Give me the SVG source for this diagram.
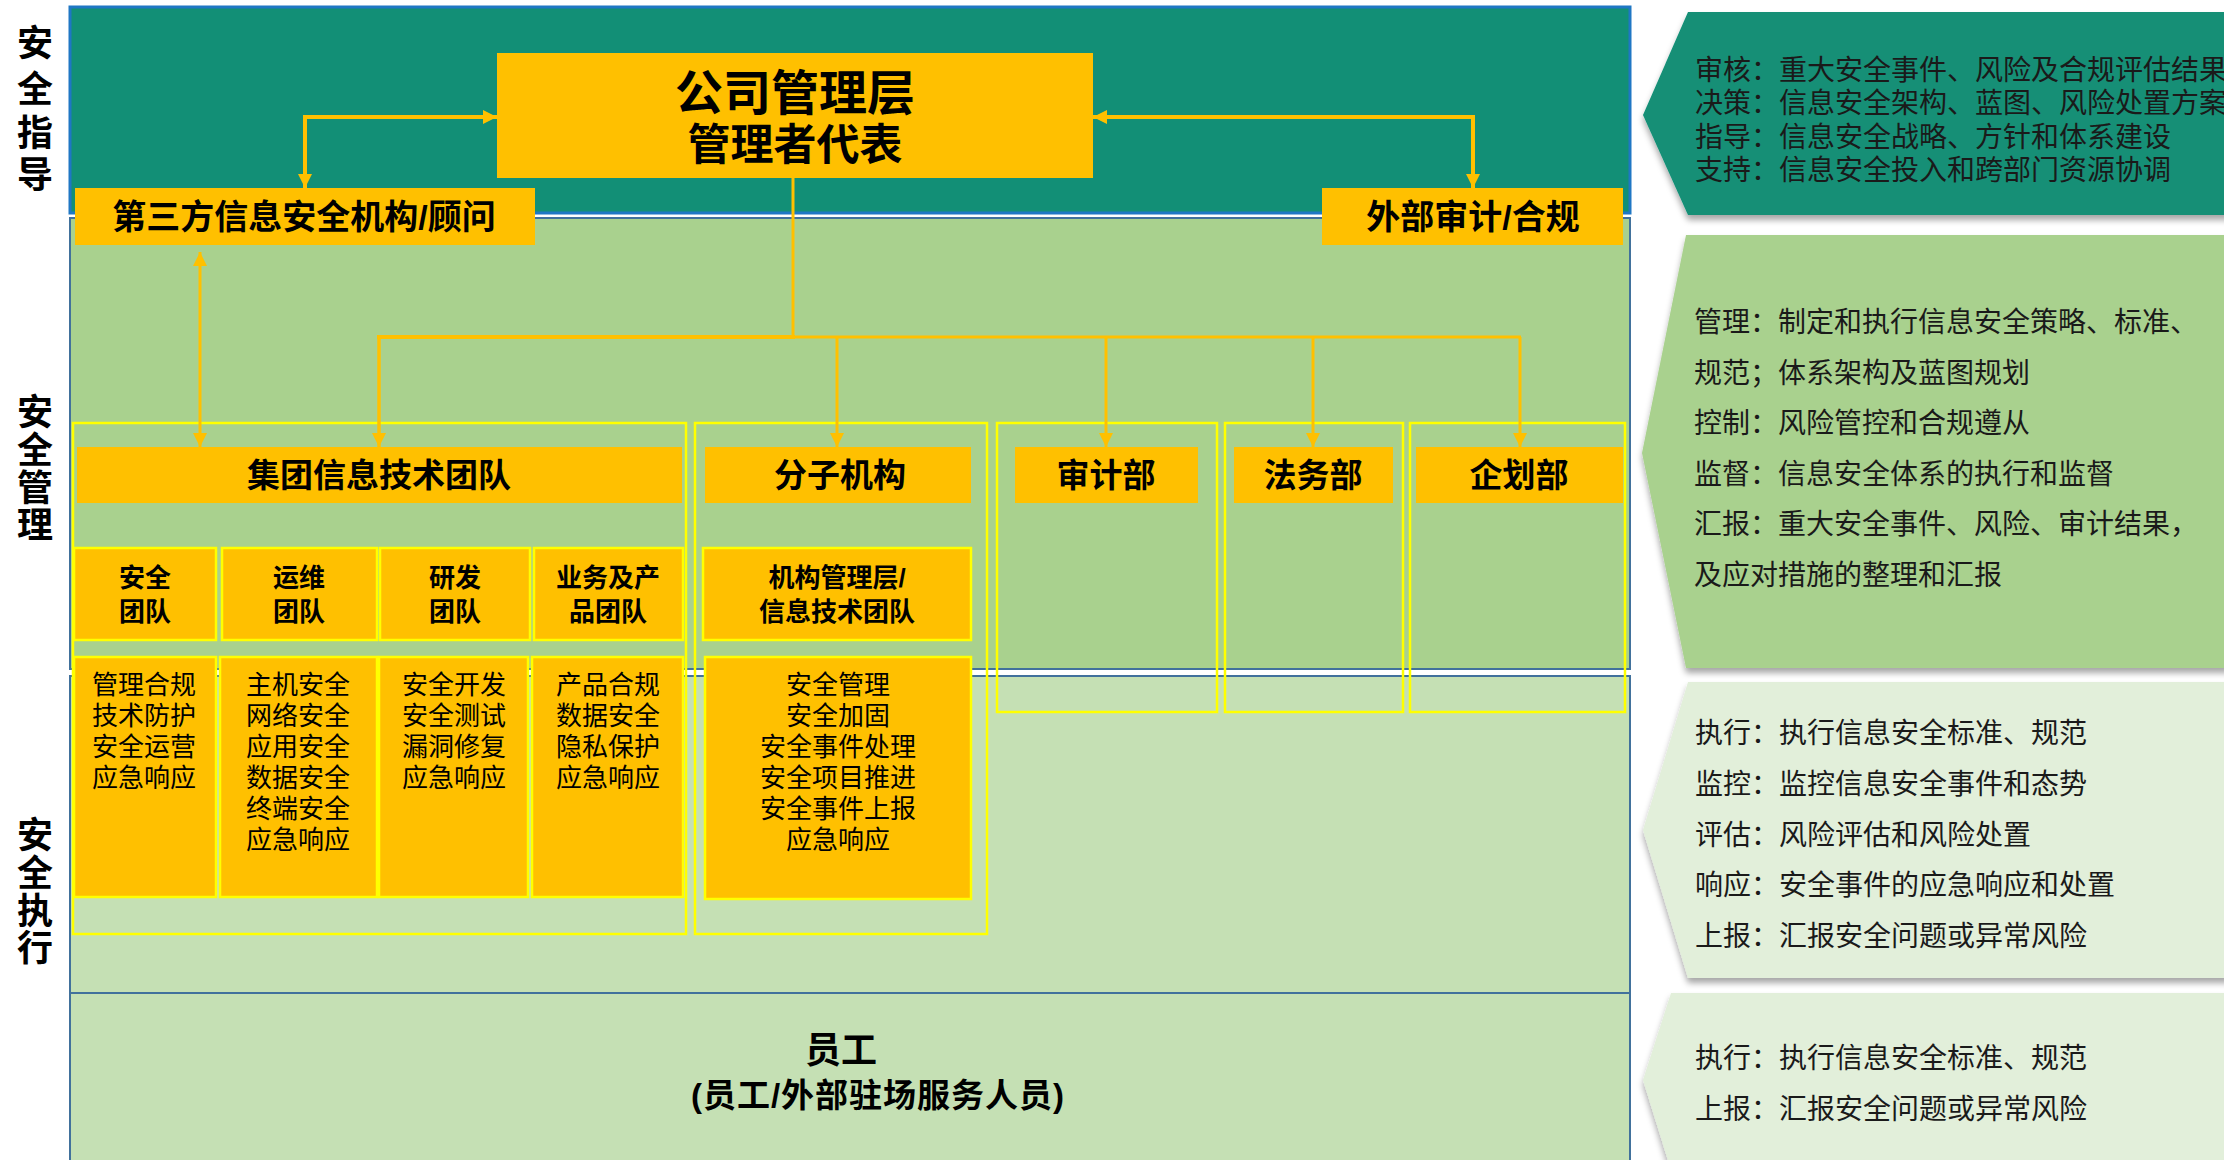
<svg xmlns="http://www.w3.org/2000/svg" width="2224" height="1160" viewBox="0 0 2224 1160">
<style>
.t{font-family:"Liberation Sans","Noto Sans CJK SC",sans-serif;fill:#000;dominant-baseline:central;text-anchor:middle}
.b{font-weight:700}
.l{text-anchor:start;font-size:28px;fill:#1a1a1a}
.box{fill:#FFC000}
.ybox{fill:#FFC000;stroke:#FFFF00;stroke-width:2.5}
.cont{fill:none;stroke:#FFFF00;stroke-width:2.5}
.con{fill:none;stroke:#FFC000;stroke-linejoin:miter}
</style>
<defs>
<marker id="ah" viewBox="0 0 10 10" refX="10" refY="5" markerUnits="userSpaceOnUse" markerWidth="15" markerHeight="14" orient="auto-start-reverse">
<path d="M0,0 L10,5 L0,10 z" fill="#FFC000"/>
</marker>
<filter id="sh" x="-5%" y="-5%" width="110%" height="115%">
<feDropShadow dx="0" dy="5" stdDeviation="3" flood-color="#000" flood-opacity="0.35"/>
</filter>
</defs>
<rect width="2224" height="1160" fill="#fff"/>
<!-- bands -->
<g id="bands">
<rect x="70" y="7" width="1560" height="206" fill="#128F76" stroke="#1F77C4" stroke-width="3"/>
<rect x="70" y="218" width="1560" height="451" fill="#A9D18E" stroke="#41719C" stroke-width="2"/>
<rect x="70" y="676" width="1560" height="317" fill="#C5E0B4" stroke="#41719C" stroke-width="2"/>
<rect x="70" y="993" width="1560" height="200" fill="#C5E0B4" stroke="#41719C" stroke-width="2"/>
</g>
<!-- left labels -->
<g id="label-guide" class="t b" font-size="36">
<text x="35" y="43">安</text><text x="35" y="89">全</text><text x="35" y="133">指</text><text x="35" y="175">导</text>
</g>
<g id="label-manage" class="t b" font-size="36">
<text x="35" y="412">安</text><text x="35" y="450">全</text><text x="35" y="488">管</text><text x="35" y="525">理</text>
</g>
<g id="label-exec" class="t b" font-size="36">
<text x="35" y="835">安</text><text x="35" y="873">全</text><text x="35" y="911">执</text><text x="35" y="948">行</text>
</g>
<!-- containers -->
<g id="containers">
<rect class="cont" x="73" y="423" width="613" height="511"/>
<rect class="cont" x="695" y="423" width="292" height="511"/>
<rect class="cont" x="997" y="423" width="220" height="289"/>
<rect class="cont" x="1225" y="423" width="178" height="289"/>
<rect class="cont" x="1410" y="423" width="215" height="289"/>
</g>
<!-- top nodes -->
<g id="node-mgmt">
<rect class="box" x="497" y="53" width="596" height="125"/>
<text class="t b" x="795" y="93" font-size="48">公司管理层</text>
<text class="t b" x="795" y="145" font-size="43">管理者代表</text>
</g>
<g id="node-thirdparty">
<rect class="box" x="75" y="188" width="460" height="57"/>
<text class="t b" x="304" y="217" font-size="34">第三方信息安全机构/顾问</text>
</g>
<g id="node-audit-ext">
<rect class="box" x="1322" y="188" width="301" height="57"/>
<text class="t b" x="1473" y="217" font-size="34">外部审计/合规</text>
</g>
<!-- header boxes -->
<g id="node-group-it">
<rect class="box" x="77" y="447" width="605" height="56"/>
<text class="t b" x="379" y="475" font-size="33">集团信息技术团队</text>
</g>
<g id="node-branch">
<rect class="box" x="705" y="447" width="266" height="56"/>
<text class="t b" x="840" y="475" font-size="33">分子机构</text>
</g>
<g id="node-audit">
<rect class="box" x="1015" y="447" width="183" height="56"/>
<text class="t b" x="1106" y="475" font-size="33">审计部</text>
</g>
<g id="node-legal">
<rect class="box" x="1234" y="447" width="159" height="56"/>
<text class="t b" x="1313" y="475" font-size="33">法务部</text>
</g>
<g id="node-planning">
<rect class="box" x="1416" y="447" width="207" height="56"/>
<text class="t b" x="1519" y="475" font-size="33">企划部</text>
</g>
<!-- team boxes -->
<g id="node-sec-team">
<rect class="ybox" x="74" y="548" width="142" height="92"/>
<text class="t b" x="145" y="578" font-size="26">安全</text>
<text class="t b" x="145" y="612" font-size="26">团队</text>
</g>
<g id="node-ops-team">
<rect class="ybox" x="222" y="548" width="155" height="92"/>
<text class="t b" x="299" y="578" font-size="26">运维</text>
<text class="t b" x="299" y="612" font-size="26">团队</text>
</g>
<g id="node-dev-team">
<rect class="ybox" x="380" y="548" width="150" height="92"/>
<text class="t b" x="455" y="578" font-size="26">研发</text>
<text class="t b" x="455" y="612" font-size="26">团队</text>
</g>
<g id="node-biz-team">
<rect class="ybox" x="534" y="548" width="149" height="92"/>
<text class="t b" x="608" y="578" font-size="26">业务及产</text>
<text class="t b" x="608" y="612" font-size="26">品团队</text>
</g>
<g id="node-branch-team">
<rect class="ybox" x="703" y="548" width="268" height="92"/>
<text class="t b" x="837" y="578" font-size="26">机构管理层/</text>
<text class="t b" x="837" y="612" font-size="26">信息技术团队</text>
</g>
<!-- duty boxes -->
<g id="node-sec-duty" font-size="26">
<rect class="ybox" x="74" y="657" width="142" height="240"/>
<text class="t" x="144" y="685">管理合规</text>
<text class="t" x="144" y="716">技术防护</text>
<text class="t" x="144" y="747">安全运营</text>
<text class="t" x="144" y="778">应急响应</text>
</g>
<g id="node-ops-duty" font-size="26">
<rect class="ybox" x="220" y="657" width="157" height="240"/>
<text class="t" x="298" y="685">主机安全</text>
<text class="t" x="298" y="716">网络安全</text>
<text class="t" x="298" y="747">应用安全</text>
<text class="t" x="298" y="778">数据安全</text>
<text class="t" x="298" y="809">终端安全</text>
<text class="t" x="298" y="840">应急响应</text>
</g>
<g id="node-dev-duty" font-size="26">
<rect class="ybox" x="379" y="657" width="149" height="240"/>
<text class="t" x="454" y="685">安全开发</text>
<text class="t" x="454" y="716">安全测试</text>
<text class="t" x="454" y="747">漏洞修复</text>
<text class="t" x="454" y="778">应急响应</text>
</g>
<g id="node-biz-duty" font-size="26">
<rect class="ybox" x="532" y="657" width="151" height="240"/>
<text class="t" x="608" y="685">产品合规</text>
<text class="t" x="608" y="716">数据安全</text>
<text class="t" x="608" y="747">隐私保护</text>
<text class="t" x="608" y="778">应急响应</text>
</g>
<g id="node-branch-duty" font-size="26">
<rect class="ybox" x="705" y="657" width="266" height="242"/>
<text class="t" x="838" y="685">安全管理</text>
<text class="t" x="838" y="716">安全加固</text>
<text class="t" x="838" y="747">安全事件处理</text>
<text class="t" x="838" y="778">安全项目推进</text>
<text class="t" x="838" y="809">安全事件上报</text>
<text class="t" x="838" y="840">应急响应</text>
</g>
<!-- employees -->
<g id="node-staff">
<text class="t b" x="841" y="1050" font-size="36">员工</text>
<text class="t b" x="878" y="1095" font-size="33" letter-spacing="1">(员工/外部驻场服务人员)</text>
</g>
<!-- connectors -->
<g id="connectors">
<polyline class="con" stroke-width="4" points="305,188 305,117 497,117" marker-start="url(#ah)" marker-end="url(#ah)"/>
<polyline class="con" stroke-width="4" points="1093,117 1473,117 1473,188" marker-start="url(#ah)" marker-end="url(#ah)"/>
<line class="con" stroke-width="3" x1="200" y1="252" x2="200" y2="447" marker-start="url(#ah)" marker-end="url(#ah)"/>
<line class="con" stroke-width="3" x1="793" y1="178" x2="793" y2="337"/>
<line class="con" stroke-width="4" x1="377" y1="337" x2="795" y2="337"/>
<line class="con" stroke-width="3" x1="793" y1="337" x2="1521" y2="337"/>
<line class="con" stroke-width="3.5" x1="379" y1="337" x2="379" y2="447" marker-end="url(#ah)"/>
<line class="con" stroke-width="3" x1="837" y1="337" x2="837" y2="447" marker-end="url(#ah)"/>
<line class="con" stroke-width="3" x1="1106" y1="337" x2="1106" y2="447" marker-end="url(#ah)"/>
<line class="con" stroke-width="3" x1="1313" y1="337" x2="1313" y2="447" marker-end="url(#ah)"/>
<line class="con" stroke-width="3" x1="1520" y1="337" x2="1520" y2="447" marker-end="url(#ah)"/>
</g>
<!-- right panels -->
<g id="panel-guide">
<path d="M1688,12 H2230 V215 H1688 L1643,115 Z" fill="#128F76" filter="url(#sh)"/>
<text class="t l" x="1695" y="70">审核：重大安全事件、风险及合规评估结果</text>
<text class="t l" x="1695" y="103">决策：信息安全架构、蓝图、风险处置方案</text>
<text class="t l" x="1695" y="137">指导：信息安全战略、方针和体系建设</text>
<text class="t l" x="1695" y="170">支持：信息安全投入和跨部门资源协调</text>
</g>
<g id="panel-manage">
<path d="M1686,235 H2230 V668 H1686 L1642,453 Z" fill="#A9D18E" filter="url(#sh)"/>
<text class="t l" x="1694" y="322">管理：制定和执行信息安全策略、标准、</text>
<text class="t l" x="1694" y="373">规范；体系架构及蓝图规划</text>
<text class="t l" x="1694" y="423">控制：风险管控和合规遵从</text>
<text class="t l" x="1694" y="474">监督：信息安全体系的执行和监督</text>
<text class="t l" x="1694" y="524">汇报：重大安全事件、风险、审计结果，</text>
<text class="t l" x="1694" y="575">及应对措施的整理和汇报</text>
</g>
<g id="panel-exec">
<path d="M1688,682 H2230 V978 H1688 L1643,830 Z" fill="#E2EFDA" filter="url(#sh)"/>
<text class="t l" x="1695" y="733">执行：执行信息安全标准、规范</text>
<text class="t l" x="1695" y="784">监控：监控信息安全事件和态势</text>
<text class="t l" x="1695" y="835">评估：风险评估和风险处置</text>
<text class="t l" x="1695" y="885">响应：安全事件的应急响应和处置</text>
<text class="t l" x="1695" y="936">上报：汇报安全问题或异常风险</text>
</g>
<g id="panel-staff">
<path d="M1671,993 H2230 V1170 H1671 L1643,1080 Z" fill="#E2EFDA" filter="url(#sh)"/>
<text class="t l" x="1695" y="1058">执行：执行信息安全标准、规范</text>
<text class="t l" x="1695" y="1109">上报：汇报安全问题或异常风险</text>
</g>
</svg>
